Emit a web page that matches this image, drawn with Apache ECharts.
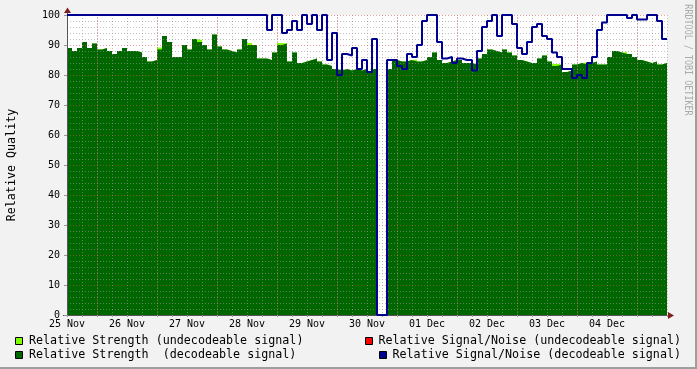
<!DOCTYPE html>
<html><head><meta charset="utf-8">
<script src="https://cdn.jsdelivr.net/npm/echarts@6/dist/echarts.min.js"></script>
<style>html,body{margin:0;padding:0;background:#f2f2f2}#c{width:697px;height:369px}</style>
</head><body><div id="c"></div>
<script>
// ---- data ----
const dayLabels = ['25 Nov','26 Nov','27 Nov','28 Nov','29 Nov','30 Nov','01 Dec','02 Dec','03 Dec','04 Dec'];
const stepHours = 2; // each value covers 2 hours, starting 25 Nov
const strengthDecodeable = [
 89,88,89,91,89,90.5,88.5,89,88,87, 88,89,88,88,87.5,86,84.5,85,88.5,93,
 91,86,86,90,88.5,92,91,90,88.5,93.5, 89.5,88.5,88,87.5,88.5,92,90,90,85.5,85.5,
 85,87.5,90,90.5,84.5,87.5,84,84.5,85,85.5, 84.5,83.5,83,82,81.5,82,81.5,82,81.5,82,
 81,82,0,0,82,85,84.5,84.5,85,84.5, 84.5,85,86,87.5,85,84,84.5,85,85,84,
 84,83.5,85.5,87,88.5,88,87.5,88.5,87.5,86.5, 85,84.5,84,84,85.5,86.5,84.5,83,83.5,81,
 81.5,83.5,84,83.5,84,84.5,83.5,83.5,86,88, 87.5,87,87,86,85,84.5,84,84.5,83.5,84
];
const strengthUndecodeableBins = [18,26,36,42,69,97,103,111];
const strengthUndecodeableExtra = [0.7,0.7,0.7,0.7,0.7,0.7,0.7,0.7];
const snrDecodeable = [
 100,100,100,100,100,100,100,100,100,100, 100,100,100,100,100,100,100,100,100,100,
 100,100,100,100,100,100,100,100,100,100, 100,100,100,100,100,100,100,100,100,100,
 95,100,100,94,95,98,95,100,97,100, 95,100,85,94,80,87,86.5,89,82,85,
 81,92,0,0,85,85,83,82,87,86, 90,98,100,100,91,85.5,86,84,85.5,85,
 85,81.5,88,96,98,100,93,100,100,97, 89,87,91,96,97,93,92,87.5,86,82,
 82,79,80,79,84,86,95,97.5,100,100, 100,100,99,100,98.5,98.5,100,100,98,92
];
const legendLabels = [
 'Relative Strength (undecodeable signal)',
 'Relative Strength  (decodeable signal)',
 'Relative Signal/Noise (undecodeable signal)',
 'Relative Signal/Noise (decodeable signal)'
];
const legendColors = ['#80ff00','#006600','#ff0000','#000090'];
const yTitle = 'Relative Quality';
const watermark = 'RRDTOOL / TOBI OETIKER';

// ---- build ----
const toSteps = arr => arr.map((v,i)=>[i*stepHours, v]).concat([[arr.length*stepHours, arr[arr.length-1]]]);
const extra = {};
strengthUndecodeableBins.forEach((b,k)=>{ extra[b] = strengthUndecodeableExtra[k]; });
const strengthTotal = strengthDecodeable.map((v,i)=> v + (extra[i] || 0));

const FONT = 'DejaVu Sans Mono';
const gridGray = 'rgba(150,150,150,0.6)';
const gridRed = 'rgba(222,79,79,0.55)';
const dash = [1,2];
const chart = echarts.init(document.getElementById('c'));

const legendGraphics = [];
const legPos = [
  {rx:15, ry:337, tx:29, ty:341, align:'left'},
  {rx:15, ry:351, tx:29, ty:355, align:'left'},
  {rx:365, ry:337, tx:681, ty:341, align:'right'},
  {rx:379, ry:351, tx:681, ty:355, align:'right'}
];
legPos.forEach((p,i)=>{
  legendGraphics.push({type:'rect', shape:{x:p.rx+0.5, y:p.ry+0.5, width:7, height:7},
    style:{fill:legendColors[i], stroke:'#000', lineWidth:1}});
  legendGraphics.push({type:'text', x:p.tx, y:p.ty,
    style:{text:legendLabels[i], fill:'#000', font:'11.7px "'+FONT+'"', textAlign:p.align, textVerticalAlign:'middle'}});
});

chart.setOption({
  animation:false,
  backgroundColor:'#f2f2f2',
  grid:{left:67, top:15, width:600, height:300, backgroundColor:'#fff', show:true, borderWidth:0},
  xAxis:{
    type:'value', min:0, max:240, interval:24, z:5,
    axisLine:{show:true, onZero:false, lineStyle:{color:'#555', width:1}},
    axisTick:{show:true, length:2, lineStyle:{color:'#999'}},
    minorTick:{show:true, splitNumber:4, length:2, lineStyle:{color:'#999'}},
    axisLabel:{show:true, margin:4, fontFamily:FONT, fontSize:10, color:'#000', showMaxLabel:false,
      formatter: v => dayLabels[Math.round(v/24)] || ''},
    splitLine:{show:true, lineStyle:{color:gridGray, type:dash}},
    minorSplitLine:{show:true, lineStyle:{color:gridGray, type:dash}}
  },
  yAxis:{
    type:'value', min:0, max:100, interval:10, z:5,
    axisLine:{show:true, lineStyle:{color:'#555', width:1}},
    axisTick:{show:true, length:3, lineStyle:{color:'#999'}},
    minorTick:{show:false, splitNumber:5},
    axisLabel:{margin:7, fontFamily:FONT, fontSize:10, color:'#000'},
    splitLine:{show:true, lineStyle:{color:gridRed, type:dash}},
    minorSplitLine:{show:true, lineStyle:{color:gridGray, type:dash}}
  },
  series:[
    {name:legendLabels[0], type:'line', step:'end', data:toSteps(strengthTotal), symbol:'none', z:1,
     lineStyle:{width:0}, areaStyle:{color:legendColors[0], opacity:1}},
    {name:legendLabels[1], type:'line', step:'end', data:toSteps(strengthDecodeable), symbol:'none', z:2,
     lineStyle:{width:0}, areaStyle:{color:legendColors[1], opacity:1},
     markLine:{silent:true, symbol:'none', label:{show:false}, z:6,
       lineStyle:{color:gridRed, type:dash, width:1},
       data: dayLabels.map((d,i)=>({xAxis: 12 + 24*i}))}},
    {name:legendLabels[3], type:'line', step:'end', data:toSteps(snrDecodeable), symbol:'none', z:10,
     lineStyle:{width:2, color:legendColors[3]}}
  ],
  graphic:[
    {type:'line', shape:{x1:67.5, y1:9, x2:67.5, y2:15}, style:{stroke:'#555', lineWidth:1}},
    {type:'line', shape:{x1:63, y1:315.5, x2:669, y2:315.5}, style:{stroke:'#555', lineWidth:1}},
    {type:'polygon', shape:{points:[[64,13],[71,13],[67.5,7.5]]}, style:{fill:'#801f1f'}},
    {type:'polygon', shape:{points:[[668,312],[668,319],[674,315.5]]}, style:{fill:'#801f1f'}},
    {type:'text', x:12, y:165, rotation:Math.PI/2,
     style:{text:yTitle, fill:'#000', font:'11.7px "'+FONT+'"', textAlign:'center', textVerticalAlign:'middle'}},
    {type:'text', x:688, y:60, rotation:-Math.PI/2, scaleX:0.84, scaleY:1.05,
     style:{text:watermark, fill:'#aaa', font:'10px "'+FONT+'"', textAlign:'center', textVerticalAlign:'middle'}},
    {type:'rect', shape:{x:695, y:0, width:2, height:369}, style:{fill:'#9e9e9e'}},
    {type:'rect', shape:{x:0, y:367, width:697, height:2}, style:{fill:'#9e9e9e'}}
  ].concat(legendGraphics)
});
</script></body></html>
